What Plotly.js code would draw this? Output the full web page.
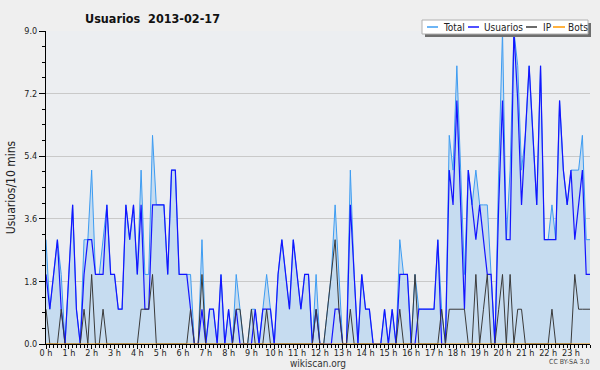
<!DOCTYPE html>
<html><head><meta charset="utf-8">
<script src="https://cdn.plot.ly/plotly-3.0.1.min.js"></script>
<style>html,body{margin:0;padding:0;background:#efefef}#c{width:600px;height:370px;outline:1px solid #a8a8a8;outline-offset:-1px}</style>
</head><body><div id="c"></div><script>
const hourLabels = ["0 h","1 h","2 h","3 h","4 h","5 h","6 h","7 h","8 h","9 h","10 h","11 h","12 h","13 h","14 h","15 h","16 h","17 h","18 h","19 h","20 h","21 h","22 h","23 h"];
const seriesNames = ["Total","Usuarios","IP","Bots"];
const yTickLabels = ["0.0","1.8","3.6","5.4","7.2","9.0"];
const yTickValues = [0,1.8,3.6,5.4,7.2,9];
// 10-minute slots, 144 per day
const total = [3,1,2,3,2,0,2,4,1,0,3,3,5,2,2,3,4,2,2,1,1,4,3,4,2,5,2,2,6,4,4,4,2,5,5,2,2,2,2,0,0,3,0,1,1,0,2,0,1,0,2,1,0,0,1,1,0,1,2,1,0,2,3,2,1,3,2,1,2,2,0,2,0,0,1,2,4,2,0,0,5,2,0,2,1,1,0,0,0,1,0,1,0,3,2,2,0,2,1,1,1,1,1,3,1,0,6,5,8,5,2,5,4,5,4,4,4,2,0,5,9,3,5,9,8,5,6,8,6,4,8,3,3,4,3,7,5,4,5,5,5,6,3,3];
const usuarios = [2,1,2,3,1,0,2,4,1,0,2,3,3,2,2,2,4,2,2,1,1,4,3,4,2,4,1,1,4,4,4,4,2,5,5,2,2,2,1,0,0,1,0,1,1,0,2,0,1,0,1,0,0,0,0,1,0,1,1,1,0,2,3,2,1,3,2,1,2,2,0,1,0,0,0,0,1,1,0,0,4,2,0,2,1,1,0,0,0,1,0,1,0,2,2,2,0,0,1,1,1,1,1,3,0,0,5,4,7,4,1,5,4,3,4,3,2,2,0,4,7,3,3,9,7,4,6,8,6,4,8,3,3,3,3,7,5,4,5,3,4,5,2,2];
const ip = [1,0,0,0,1,0,0,0,0,0,1,0,2,0,0,1,0,0,0,0,0,0,0,0,0,1,1,1,2,0,0,0,0,0,0,0,0,0,1,0,0,2,0,0,0,0,0,0,0,0,1,1,0,0,1,0,0,0,1,0,0,0,0,0,0,0,0,0,0,0,0,1,0,0,1,2,3,1,0,0,1,0,0,0,0,0,0,0,0,0,0,0,0,1,0,0,0,2,0,0,0,0,0,0,1,0,1,1,1,1,1,0,0,2,0,1,2,0,0,1,2,0,2,0,1,1,0,0,0,0,0,0,0,1,0,0,0,0,0,2,1,1,1,1];
const bots = [0,0,0,0,0,0,0,0,0,0,0,0,0,0,0,0,0,0,0,0,0,0,0,0,0,0,0,0,0,0,0,0,0,0,0,0,0,0,0,0,0,0,0,0,0,0,0,0,0,0,0,0,0,0,0,0,0,0,0,0,0,0,0,0,0,0,0,0,0,0,0,0,0,0,0,0,0,0,0,0,0,0,0,0,0,0,0,0,0,0,0,0,0,0,0,0,0,0,0,0,0,0,0,0,0,0,0,0,0,0,0,0,0,0,0,0,0,0,0,0,0,0,0,0,0,0,0,0,0,0,0,0,0,0,0,0,0,0,0,0,0,0,0,0];

const slots = total.map((_, i) => i);
const colors = ["#3d9cf2","#1414ff","#3a3a3a","#ff9900"];
const FONT = "DejaVu Sans Condensed, Liberation Sans Narrow, DejaVu Sans, sans-serif";

const L = 46, T = 31, W = 544, H = 313;
const px = x => (x - L) / W;
const py = y => (T + H - y) / H;

const traces = [
  {x: slots, y: total, name: seriesNames[0], type: "scatter", mode: "lines", line: {color: colors[0], width: 1}, fill: "tozeroy", fillcolor: "#c6dcf0"},
  {x: slots, y: usuarios, name: seriesNames[1], type: "scatter", mode: "lines", line: {color: colors[1], width: 1.2}},
  {x: slots, y: ip, name: seriesNames[2], type: "scatter", mode: "lines", line: {color: colors[2], width: 1}},
  {x: slots, y: bots, name: seriesNames[3], type: "scatter", mode: "lines", line: {color: colors[3], width: 1}}
];

// custom legend
const legendBox = {x0: 422, x1: 588, y0: 20, y1: 34};
const legendItems = [
  {l0: 427, l1: 438, t: 442},
  {l0: 468, l1: 479, t: 483},
  {l0: 526, l1: 537, t: 542},
  {l0: 553, l1: 565, t: 567}
];
const shapes = [
  {type: "rect", xref: "paper", yref: "paper", x0: px(legendBox.x0 + 3), x1: px(legendBox.x1 + 3), y0: py(legendBox.y0 + 3), y1: py(legendBox.y1 + 3), fillcolor: "#6e6e6e", line: {width: 0}, layer: "above"},
  {type: "rect", xref: "paper", yref: "paper", x0: px(legendBox.x0), x1: px(legendBox.x1), y0: py(legendBox.y0), y1: py(legendBox.y1), fillcolor: "#ffffff", line: {width: 1, color: "#b0b0b0"}, layer: "above"}
];
const annotations = [];
const ly = (legendBox.y0 + legendBox.y1) / 2;
legendItems.forEach((it, k) => {
  shapes.push({type: "line", xref: "paper", yref: "paper", x0: px(it.l0), x1: px(it.l1), y0: py(ly), y1: py(ly), line: {color: colors[k], width: 1.5}, layer: "above"});
  annotations.push({xref: "paper", yref: "paper", x: px(it.t), y: py(ly), xanchor: "left", yanchor: "middle", text: seriesNames[k], showarrow: false, font: {family: FONT, size: 10, color: "#222"}, borderpad: 0});
});
annotations.push({xref: "paper", yref: "paper", x: px(590), y: py(362), xanchor: "right", yanchor: "middle", text: "CC BY-SA 3.0", showarrow: false, font: {family: FONT, size: 7, color: "#444"}, borderpad: 0});

const tickVals = hourLabels.map((_, h) => h * 6);

const layout = {
  width: 600, height: 370,
  margin: {l: L, r: 600 - L - W, t: T, b: 370 - T - H, pad: 0},
  paper_bgcolor: "#efefef", plot_bgcolor: "#eceef1",
  showlegend: false,
  title: {text: "<b>Usuarios  2013-02-17</b>", x: 85 / 600, xanchor: "left", xref: "container", y: 1 - 18.5 / 370, yanchor: "middle", font: {family: FONT, size: 12.5, color: "#111"}},
  xaxis: {
    range: [0, 143], showgrid: false, zeroline: false, showline: true, linecolor: "#000", linewidth: 1,
    ticks: "outside", ticklen: 4, tickcolor: "#000", tickvals: tickVals, ticktext: hourLabels,
    ticklabelstandoff: -4,
    tickfont: {family: FONT, size: 9, color: "#222"},
    minor: {dtick: 1, tick0: 0, ticks: "outside", ticklen: 3, tickcolor: "#000", showgrid: false},
    title: {text: "wikiscan.org", font: {family: FONT, size: 10, color: "#333"}, standoff: 0}
  },
  yaxis: {
    range: [0, 9], showgrid: true, gridcolor: "#c9c9c9", zeroline: false, showline: true, linecolor: "#000", linewidth: 1,
    ticks: "outside", ticklen: 6, tickcolor: "#000", tickvals: yTickValues, ticktext: yTickLabels,
    tickfont: {family: FONT, size: 9, color: "#222"},
    minor: {dtick: 0.45, tick0: 0, ticks: "outside", ticklen: 3, tickcolor: "#000", showgrid: false},
    title: {text: "Usuarios/10 mins", font: {family: FONT, size: 12, color: "#222"}, standoff: 6}
  },
  shapes: shapes,
  annotations: annotations
};

Plotly.newPlot("c", traces, layout, {staticPlot: true, displayModeBar: false});
</script></body></html>
